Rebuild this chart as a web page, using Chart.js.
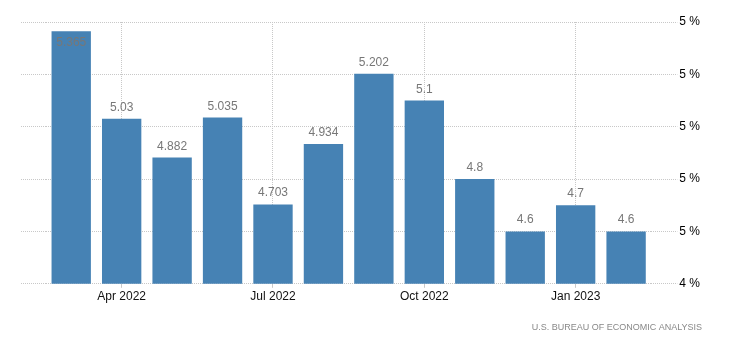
<!DOCTYPE html>
<html>
<head>
<meta charset="utf-8">
<script src="https://cdn.jsdelivr.net/npm/chart.js@4.4.1/dist/chart.umd.min.js"></script>
<style>
  body { margin: 0; background: #fff; }
  #wrap { width: 751px; height: 349px; }
</style>
</head>
<body>
<div id="wrap"><canvas id="rateChart" width="751" height="349"></canvas></div>
<script>
// Monthly rate, Mar 2022 - Feb 2023
const months = ['Mar 2022', 'Apr 2022', 'May 2022', 'Jun 2022', 'Jul 2022', 'Aug 2022',
                'Sep 2022', 'Oct 2022', 'Nov 2022', 'Dec 2022', 'Jan 2023', 'Feb 2023'];
const rates = [5.365, 5.03, 4.882, 5.035, 4.703, 4.934, 5.202, 5.1, 4.8, 4.6, 4.7, 4.6];
const shownMonths = ['Apr 2022', 'Jul 2022', 'Oct 2022', 'Jan 2023'];
const yMin = 4.4;
const yMax = 5.4;
const yStep = 0.2;
const sourceText = 'U.S. BUREAU OF ECONOMIC ANALYSIS';

const FONT = "'Liberation Sans', Arial, sans-serif";
const GRID = '#c8c8c8';

// value printed above each bar (inside the bar when there's no room above)
const barValues = {
    id: 'barValues',
    afterDatasetsDraw(chart) {
        const { ctx, chartArea } = chart;
        const meta = chart.getDatasetMeta(0);
        ctx.save();
        ctx.font = '12px ' + FONT;
        ctx.fillStyle = '#777';
        ctx.textAlign = 'center';
        ctx.textBaseline = 'alphabetic';
        meta.data.forEach((bar, i) => {
            let y = bar.y - 8;
            if (y - 10 < chartArea.top) y = bar.y + 15;
            ctx.fillText(String(rates[i]), bar.x, y);
        });
        ctx.restore();
    }
};

const isShown = idx => shownMonths.includes(months[idx]);

new Chart(document.getElementById('rateChart'), {
    type: 'bar',
    data: {
        labels: months,
        datasets: [{
            data: rates,
            backgroundColor: '#4682b4',
            categoryPercentage: 1,
            barPercentage: 0.78
        }]
    },
    options: {
        responsive: false,
        animation: false,
        layout: { padding: { left: 21, right: 49, top: 22, bottom: 16 } },
        plugins: {
            legend: { display: false },
            tooltip: { enabled: false },
            title: {
                display: true,
                position: 'bottom',
                align: 'end',
                text: sourceText,
                color: '#888',
                font: { family: FONT, size: 9, weight: 'normal' },
                padding: { top: 16, bottom: 0 }
            }
        },
        scales: {
            x: {
                offset: true,
                grid: {
                    offset: false,
                    color: c => isShown(c.index) ? GRID : 'transparent',
                    tickColor: c => isShown(c.index) ? GRID : 'transparent',
                    tickLength: 4
                },
                border: { display: false, dash: [1, 1] },
                ticks: {
                    autoSkip: false,
                    maxRotation: 0,
                    padding: 2,
                    color: '#111',
                    font: { family: FONT, size: 12 },
                    callback: (v, idx) => isShown(idx) ? months[idx] : ''
                }
            },
            yLeft: {
                position: 'left',
                min: yMin,
                max: yMax,
                ticks: { display: false, stepSize: yStep },
                grid: {
                    drawOnChartArea: false,
                    tickLength: 25,
                    tickColor: GRID,
                    tickBorderDash: [1, 1]
                },
                border: { display: false }
            },
            y: {
                position: 'right',
                min: yMin,
                max: yMax,
                grid: {
                    color: GRID,
                    tickLength: 26,
                    tickColor: GRID,
                    tickBorderDash: [1, 1]
                },
                border: { display: false, dash: [1, 1] },
                ticks: {
                    stepSize: yStep,
                    padding: 2,
                    color: '#000',
                    font: { family: FONT, size: 12 },
                    callback: v => Math.round(v) + ' %'
                }
            }
        }
    },
    plugins: [barValues]
});
</script>
</body>
</html>
